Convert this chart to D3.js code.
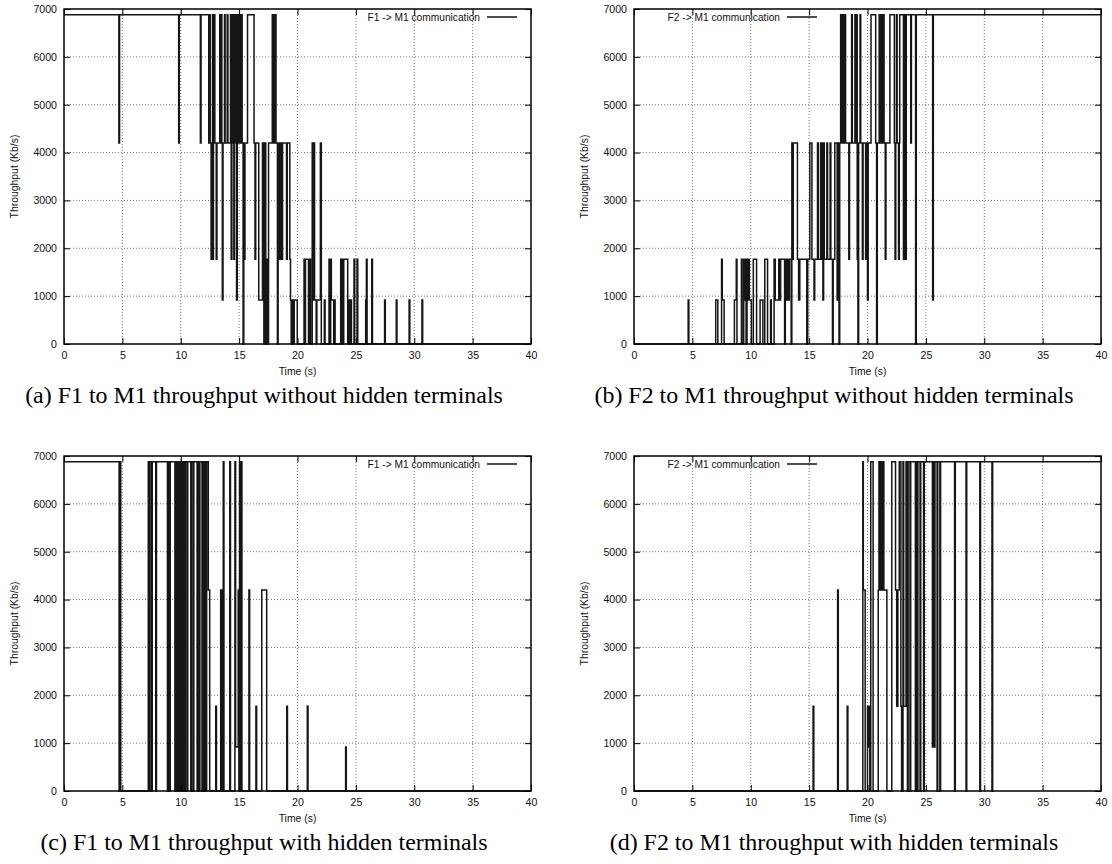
<!DOCTYPE html>
<html><head><meta charset="utf-8">
<script src="https://cdn.jsdelivr.net/npm/d3@7"></script>
<style>body{margin:0;background:#fff}svg{display:block}</style>
</head><body>
<svg id="chart" width="1112" height="864"></svg>
<script>
// ---------- data ----------
const timeTicks = [0, 5, 10, 15, 20, 25, 30, 35, 40];
const rateTicks = [0, 1000, 2000, 3000, 4000, 5000, 6000, 7000];
const timeDomain = [0, 40];
const rateDomain = [0, 7000];

// [time (s), throughput (Kb/s)] change points, drawn as steps
const f1NoHidden = [
 [0,6880],[4.70,4200],[4.76,6880],[9.82,4200],[9.88,6880],[11.68,4200],[11.74,6880],
 [12.40,4200],[12.46,6880],[12.52,4200],[12.60,1770],[12.66,4200],[12.72,6880],[12.76,1770],[12.80,4200],[12.86,6880],
 [12.92,4200],[13.04,1770],[13.10,4200],[13.34,6880],[13.40,4200],[13.47,6880],[13.52,4200],[13.56,920],[13.62,4200],
 [13.75,6880],[13.80,4200],[13.98,6880],[14.04,4200],[14.26,6880],[14.32,1770],[14.38,6880],[14.44,4200],[14.50,6880],
 [14.55,1770],[14.60,6880],[14.66,4200],[14.72,6880],[14.78,920],[14.84,6880],[14.90,4200],[14.96,6880],[15.02,4200],
 [15.08,6880],[15.14,4200],[15.20,6880],[15.26,4200],[15.34,0],[15.40,4200],[15.44,1770],[15.50,4200],
 [15.72,6880],[16.28,4200],[16.36,1770],[16.42,4200],[16.68,920],[17.00,4200],[17.12,0],[17.18,4200],[17.28,0],
 [17.36,1770],[17.46,0],[17.52,4200],[17.84,6880],[17.90,4200],[17.96,6880],[18.06,4200],[18.10,6880],[18.16,4200],
 [18.28,0],[18.34,4200],[18.42,1770],[18.48,4200],[18.54,1770],[18.60,4200],[18.66,1770],[18.72,4200],[19.06,1770],
 [19.12,4200],[19.34,1770],[19.40,920],[19.46,0],[19.54,920],[19.66,0],[19.72,920],[19.98,0],
 [20.56,1770],[20.62,0],[20.68,1770],[20.94,0],[21.00,1770],[21.12,0],[21.26,4200],[21.34,920],[21.40,4200],[21.46,920],
 [21.60,0],[21.66,920],[21.96,4200],[22.04,0],[22.30,920],[22.36,0],[22.70,1770],[22.76,0],[22.84,1770],[22.90,920],
 [23.10,0],[23.16,920],[23.22,0],[23.70,1770],[23.76,0],[23.84,1770],[23.90,0],[23.96,1770],[24.30,0],[24.40,920],
 [24.46,0],[24.56,920],[24.62,0],[24.84,1770],[24.90,0],[25.10,1770],[25.16,0],[25.84,920],[25.90,1770],[25.96,0],
 [26.36,1770],[26.42,0],[27.46,920],[27.52,0],[28.46,920],[28.52,0],[29.56,920],[29.62,0],[30.66,920],[30.72,0]
];

const f2NoHidden = [
 [0,0],[4.64,920],[4.70,0],[7.00,920],[7.18,0],[7.50,1770],[7.56,920],[7.72,0],[8.60,920],[8.76,1770],[8.82,0],
 [9.20,1770],[9.26,0],[9.40,1770],[9.46,920],[9.52,1770],[9.60,0],[9.68,1770],[9.76,920],[9.82,1770],[9.88,920],[10.05,0],
 [10.22,1770],[10.50,0],[10.80,920],[11.04,0],[11.20,1770],[11.44,0],[11.70,920],[11.76,0],
 [12.00,1770],[12.10,920],[12.40,1770],[12.50,920],[12.56,1770],[12.90,0],[12.96,1770],[13.00,920],[13.10,1770],
 [13.20,920],[13.30,1770],[13.46,0],[13.52,4200],[13.58,1770],[13.64,4200],[14.00,1770],[14.10,920],[14.20,1770],
 [14.80,0],[14.88,1770],[15.06,4200],[15.24,1770],[15.42,920],[15.48,1770],[15.72,4200],[15.78,1770],[15.98,4200],
 [16.04,1770],[16.12,4200],[16.18,920],[16.24,4200],[16.30,1770],[16.52,4200],[16.58,1770],[16.80,4200],[16.86,1770],
 [17.00,0],[17.06,1770],[17.20,4200],[17.40,920],[17.46,4200],[17.56,0],[17.62,4200],
 [17.70,6880],[17.76,4200],[17.82,6880],[17.88,4200],[17.94,6880],[18.00,4200],[18.04,6880],[18.12,4200],
 [18.40,1770],[18.46,4200],[18.64,6880],[18.70,4200],[18.92,6880],[18.98,4200],[19.06,6880],[19.12,1770],[19.18,0],
 [19.24,4200],[19.36,6880],[19.42,4200],[19.56,1770],[19.62,4200],[19.84,1770],[19.90,4200],[20.00,920],[20.06,4200],
 [20.30,6880],[20.70,4200],[20.78,0],[20.84,4200],[21.00,6880],[21.06,4200],[21.12,6880],[21.18,4200],[21.24,6880],
 [21.30,4200],[21.36,6880],[21.42,4200],[21.52,1770],[21.58,4200],[21.92,6880],[22.30,4200],[22.36,1770],[22.42,4200],
 [22.48,6880],[22.54,4200],[22.66,1770],[22.72,4200],[22.76,6880],[23.08,1770],[23.14,6880],[23.26,1770],[23.32,6880],
 [23.70,4200],[23.76,6880],[24.12,0],[24.18,6880],[25.58,920],[25.64,6880]
];

const f1Hidden = [
 [0,6880],[4.72,0],[4.80,6880],[4.86,0],[7.22,6880],[7.30,0],[7.36,6880],[7.50,0],[7.56,6880],[7.86,0],[7.92,6880],
 [8.86,0],[8.92,6880],[9.04,0],[9.10,6880],[9.50,0],[9.56,6880],[9.62,0],[9.66,6880],[9.72,0],[9.76,6880],[9.82,0],
 [9.86,6880],[9.90,0],[9.96,6880],[10.00,0],[10.06,6880],[10.12,0],[10.16,6880],[10.22,0],[10.28,6880],[10.34,0],
 [10.40,6880],[10.54,0],[10.60,6880],[10.86,0],[10.92,6880],[11.06,0],[11.12,6880],[11.40,0],[11.46,6880],[11.58,0],
 [11.64,6880],[11.82,0],[11.88,6880],[11.98,0],[12.04,6880],[12.16,0],[12.22,6880],[12.36,4200],[12.48,0],
 [13.00,1770],[13.06,0],[13.42,4200],[13.50,0],[13.54,4200],[13.60,0],[13.64,6880],[13.70,0],[14.20,6880],[14.26,0],
 [14.64,6880],[14.70,920],[14.92,4200],[14.98,0],[15.04,6880],[15.10,0],[15.18,6880],[15.24,0],[15.84,4200],[15.90,0],
 [16.44,1770],[16.50,0],[16.94,4200],[17.36,0],[19.08,1770],[19.14,0],[20.84,1770],[20.90,0],[24.12,920],[24.18,0]
];

const f2Hidden = [
 [0,0],[15.34,1770],[15.40,0],[17.44,4200],[17.50,0],[18.26,1770],[18.32,0],[19.60,6880],[19.64,4200],[19.80,0],
 [20.00,1770],[20.06,920],[20.14,1770],[20.20,0],[20.28,6880],[20.48,0],[20.92,4200],[20.98,6880],[21.06,4200],
 [21.10,6880],[21.20,4200],[21.26,6880],[21.30,4200],[21.36,6880],[21.40,4200],[21.66,0],[22.08,6880],[22.40,4200],
 [22.50,1770],[22.60,4200],[22.72,6880],[22.86,1770],[22.92,0],[23.04,6880],[23.10,1770],[23.30,6880],[23.42,0],
 [23.48,6880],[23.64,0],[23.70,6880],[24.10,0],[24.16,6880],[24.26,0],[24.32,6880],[24.50,0],[24.56,6880],[24.80,0],
 [24.86,6880],[25.56,920],[25.64,6880],[25.70,920],[25.78,6880],[25.96,0],[26.02,6880],[26.20,0],[26.26,6880],
 [27.46,0],[27.52,6880],[28.44,0],[28.50,6880],[29.62,0],[29.68,6880],[30.66,0],[30.72,6880]
];

const legendLabels = ["F1 -> M1 communication", "F2 -> M1 communication", "F1 -> M1 communication", "F2 -> M1 communication"];
const captions = [
 "(a) F1 to M1 throughput without hidden terminals",
 "(b) F2 to M1 throughput without hidden terminals",
 "(c) F1 to M1 throughput with hidden terminals",
 "(d) F2 to M1 throughput with hidden terminals"
];
const xLabel = "Time (s)";
const yLabel = "Throughput (Kb/s)";

// ---------- layout ----------
const W = 467, H = 335;
const panels = [
 {data: f1NoHidden, left: 64,  top: 9,   keyRight: true},
 {data: f2NoHidden, left: 634, top: 9,   keyRight: false},
 {data: f1Hidden,   left: 64,  top: 456, keyRight: true},
 {data: f2Hidden,   left: 634, top: 456, keyRight: false}
];
const sans = "'Liberation Sans', Arial, Helvetica, sans-serif";
const serif = "'Liberation Serif', 'Times New Roman', serif";

const svg = d3.select("#chart");
svg.append("rect").attr("width", 1112).attr("height", 864).attr("fill", "#fff");

const x = d3.scaleLinear().domain(timeDomain).range([0, W]);
const y = d3.scaleLinear().domain(rateDomain).range([H, 0]);

// caption font size measured so that caption (a) spans ~478 px
const probe = svg.append("text").attr("font-family", serif).attr("font-size", 17).text(captions[0]);
const capSize = 17 * 478 / probe.node().getComputedTextLength();
probe.remove();

panels.forEach((p, i) => {
  const g = svg.append("g").attr("transform", `translate(${p.left},${p.top})`);

  // grid
  g.append("g").selectAll("line").data(timeTicks.slice(1, -1)).join("line")
    .attr("x1", d => x(d)).attr("x2", d => x(d)).attr("y1", 0).attr("y2", H)
    .attr("stroke", "#777").attr("stroke-width", 1).attr("stroke-dasharray", "1,2");
  g.append("g").selectAll("line").data(rateTicks.slice(1, -1)).join("line")
    .attr("y1", d => y(d)).attr("y2", d => y(d)).attr("x1", 0).attr("x2", W)
    .attr("stroke", "#777").attr("stroke-width", 1).attr("stroke-dasharray", "1,2");

  // series (step)
  const pts = p.data.concat([[timeDomain[1], p.data[p.data.length - 1][1]]]);
  const line = d3.line().x(d => x(d[0])).y(d => y(d[1])).curve(d3.curveStepAfter);
  g.append("path").datum(pts).attr("d", line)
    .attr("fill", "none").attr("stroke", "#151515").attr("stroke-width", 1.5);

  // axes with inward mirrored ticks
  const axB = d3.axisBottom(x).tickValues(timeTicks).tickSizeInner(-6).tickSizeOuter(0).tickPadding(7).tickFormat(d3.format("d"));
  const axT = d3.axisTop(x).tickValues(timeTicks).tickSizeInner(-6).tickSizeOuter(0).tickFormat("");
  const axL = d3.axisLeft(y).tickValues(rateTicks).tickSizeInner(-6).tickSizeOuter(0).tickPadding(7).tickFormat(d3.format("d"));
  const axR = d3.axisRight(y).tickValues(rateTicks).tickSizeInner(-6).tickSizeOuter(0).tickFormat("");
  const gb = g.append("g").attr("transform", `translate(0,${H})`).call(axB);
  const gt = g.append("g").call(axT);
  const gl = g.append("g").call(axL);
  const gr = g.append("g").attr("transform", `translate(${W},0)`).call(axR);
  [gb, gt, gl, gr].forEach(a => {
    a.select(".domain").remove();
    a.selectAll(".tick line").attr("stroke", "#000").attr("stroke-width", 1);
    a.selectAll(".tick text").attr("font-family", sans).attr("font-size", 10.6).attr("fill", "#111");
  });

  // border
  g.append("rect").attr("width", W).attr("height", H).attr("fill", "none")
    .attr("stroke", "#000").attr("stroke-width", 1.5);

  // axis titles
  g.append("text").attr("x", W / 2).attr("y", H + 31).attr("text-anchor", "middle")
    .attr("font-family", sans).attr("font-size", 10.4).attr("fill", "#111").text(xLabel);
  g.append("text").attr("transform", `translate(${-50},${H / 2}) rotate(-90)`).attr("text-anchor", "middle")
    .attr("dy", "0.35em")
    .attr("font-family", sans).attr("font-size", 10.4).attr("fill", "#111").text(yLabel);

  // legend
  const kEnd = p.keyRight ? W - 51 : 146;
  g.append("text").attr("x", kEnd).attr("y", 8).attr("dy", "0.35em").attr("text-anchor", "end")
    .attr("font-family", sans).attr("font-size", 10.2).attr("fill", "#111").text(legendLabels[i]);
  g.append("line").attr("x1", kEnd + 7).attr("x2", kEnd + 37).attr("y1", 8).attr("y2", 8)
    .attr("stroke", "#111").attr("stroke-width", 1.5);

  // caption
  svg.append("text").attr("x", p.left + 200).attr("y", p.top + H + 59).attr("text-anchor", "middle")
    .attr("font-family", serif).attr("font-size", capSize).attr("fill", "#000").text(captions[i]);
});
</script>
</body></html>
